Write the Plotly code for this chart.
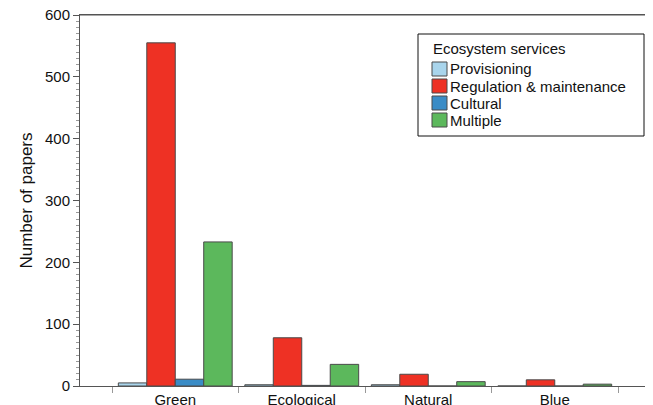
import plotly.graph_objects as go

# Data
categories = ["Green", "Ecological", "Natural", "Blue"]
provisioning = [5, 2, 2, 0]
regulation = [555, 78, 19, 10]
cultural = [11, 1, 0, 0]
multiple = [233, 35, 7, 3]

series = [
    ("Provisioning", provisioning, "#a9d5ec"),
    ("Regulation & maintenance", regulation, "#ee3124"),
    ("Cultural", cultural, "#3a8cc6"),
    ("Multiple", multiple, "#5cb85c"),
]

FONT = "Liberation Sans, Arial, Helvetica, sans-serif"
AXIS = "#555555"

# page body has an 8px margin, so the figure sits at (8, 8) in the window
OFF = 8
W, H = 653 - OFF, 405 - OFF
L, R, T, B = 80 - OFF, 4, 15 - OFF, 19
PW, PH = W - L - R, H - T - B


def px_x(x):
    return (x - OFF - L) / PW


def px_y(y):
    return (H - B - (y - OFF)) / PH


fig = go.Figure()
for name, vals, color in series:
    fig.add_trace(go.Bar(
        x=categories, y=vals, name=name, showlegend=False,
        marker=dict(color=color, line=dict(color="#4a4a4a", width=1)),
    ))

# hand-drawn legend (tighter than plotly's own)
shapes = [dict(type="rect", xref="paper", yref="paper",
               x0=px_x(418), x1=px_x(644), y0=px_y(136), y1=px_y(34),
               line=dict(color="#111111", width=1), fillcolor="white")]
annotations = [dict(text="Ecosystem services", xref="paper", yref="paper",
                    x=px_x(431), y=px_y(48), xanchor="left", yanchor="middle",
                    showarrow=False, font=dict(size=15, color="#111111"))]
for i, (name, _, color) in enumerate(series):
    cy = 69 + i * 17
    x0, x1, y0, y1 = px_x(432), px_x(447), px_y(cy + 7), px_y(cy - 7)
    shapes.append(dict(type="rect", xref="paper", yref="paper",
                       x0=x0, x1=x1, y0=y0, y1=y1,
                       line=dict(color="#4a4a4a", width=1), fillcolor=color))
    annotations.append(dict(text=name, xref="paper", yref="paper",
                            x=px_x(448), y=px_y(cy), xanchor="left", yanchor="middle",
                            showarrow=False, font=dict(size=15, color="#111111")))

# top frame line (the mirrored axis line gets lost this close to the edge)
shapes.append(dict(type="line", xref="paper", yref="paper",
                   x0=0, x1=1, y0=1, y1=1, line=dict(color=AXIS, width=1)))

fig.update_layout(
    width=W, height=H,
    barmode="group", bargap=0.1, bargroupgap=0,
    paper_bgcolor="white", plot_bgcolor="white",
    font=dict(family=FONT, size=15, color="#111111"),
    margin=dict(l=L, r=R, t=T, b=B, autoexpand=False),
    shapes=shapes, annotations=annotations,
    showlegend=False,
)

fig.update_xaxes(
    range=[-0.753, 3.745], automargin=False,
    tickson="boundaries", ticks="outside", ticklen=6, tickcolor="#999999",
    showline=True, linecolor=AXIS, linewidth=1, mirror=True,
    showgrid=False, tickfont=dict(size=15), ticklabeloverflow="allow",
)
fig.update_yaxes(
    range=[0, 600], dtick=100, automargin=False,
    ticks="outside", ticklen=6, tickcolor=AXIS,
    minor=dict(dtick=10, ticks="outside", ticklen=3, tickcolor="#999999"),
    showline=True, linecolor=AXIS, linewidth=1, mirror=True,
    showgrid=False, zeroline=False, ticklabeloverflow="allow",
    title=dict(text="Number of papers", font=dict(size=17), standoff=8),
    tickfont=dict(size=15),
)

fig.write_html("out.html")
